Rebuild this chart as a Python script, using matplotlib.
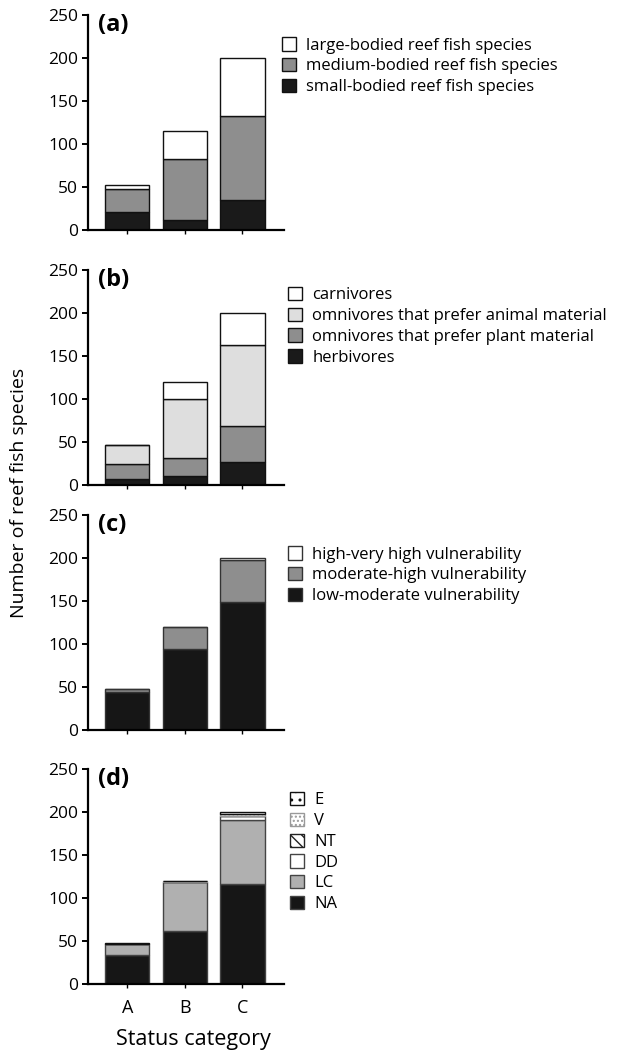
import matplotlib
matplotlib.use("Agg")
import matplotlib.pyplot as plt
import numpy as np

plt.rcParams.update({"font.family": ["Open Sans", "DejaVu Sans"], "font.size": 12,
                     "hatch.linewidth": 1.0})

categories = ["A", "B", "C"]

# (a) body size
size_labels = ["small-bodied reef fish species", "medium-bodied reef fish species",
               "large-bodied reef fish species"]
size_small = [21, 12, 35]
size_medium = [27, 70, 98]
size_large = [4, 33, 67]

# (b) trophic group
troph_labels = ["herbivores", "omnivores that prefer plant material",
                "omnivores that prefer animal material", "carnivores"]
troph_herb = [7, 11, 27]
troph_plant = [18, 21, 42]
troph_animal = [22, 68, 94]
troph_carn = [0, 20, 37]

# (c) vulnerability
vuln_labels = ["low-moderate vulnerability", "moderate-high vulnerability",
               "high-very high vulnerability"]
vuln_low = [44, 94, 149]
vuln_mod = [3, 25, 48]
vuln_high = [0, 1, 3]

# (d) IUCN status
iucn_labels = ["NA", "LC", "DD", "NT", "V", "E"]
iucn_na = [34, 61, 116]
iucn_lc = [12, 57, 75]
iucn_dd = [0, 0, 4]
iucn_nt = [0, 0, 0]
iucn_v = [0, 1, 2]
iucn_e = [1, 1, 3]

panels = [
    ("(a)", [size_small, size_medium, size_large], size_labels,
     [dict(fc="#1a1a1a", ec="#111111"), dict(fc="#8e8e8e", ec="#111111"),
      dict(fc="white", ec="#111111")], 0.781),
    ("(b)", [troph_herb, troph_plant, troph_animal, troph_carn], troph_labels,
     [dict(fc="#1a1a1a", ec="#111111"), dict(fc="#8e8e8e", ec="#111111"),
      dict(fc="#dedede", ec="#111111"), dict(fc="white", ec="#111111")], 0.538),
    ("(c)", [vuln_low, vuln_mod, vuln_high], vuln_labels,
     [dict(fc="#161616", ec="#333333"), dict(fc="#8e8e8e", ec="#333333"),
      dict(fc="white", ec="#333333")], 0.305),
    ("(d)", [iucn_na, iucn_lc, iucn_dd, iucn_nt, iucn_v, iucn_e], iucn_labels,
     [dict(fc="#161616", ec="#444444"), dict(fc="#b0b0b0", ec="#444444"),
      dict(fc="white", ec="#444444"), dict(fc="white", ec="#222222", hatch="\\\\\\"),
      dict(fc="white", ec="#999999", hatch="...."), dict(fc="white", ec="#111111", hatch="..")],
     0.063),
]

legend_tops = [0.9645, 0.7267, 0.4797, 0.2457]
legend_lefts = [282, 288, 288, 290]

fig = plt.figure(figsize=(6.21, 10.5), dpi=100)
x = np.arange(len(categories))

for i, (tag, series, labels, styles, bottom) in enumerate(panels):
    ax = fig.add_axes([88 / 621, bottom, 196 / 621, 0.2048])
    base = np.zeros(len(categories))
    handles = []
    for vals, lab, st in zip(series, labels, styles):
        b = ax.bar(x, vals, width=0.77, bottom=base, color=st["fc"], edgecolor=st["ec"],
                   hatch=st.get("hatch"), linewidth=1.0, label=lab)
        handles.append(b)
        base = base + np.array(vals)
    ax.set_ylim(0, 250)
    ax.set_xlim(-0.68, 2.72)
    ax.set_yticks([0, 50, 100, 150, 200, 250])
    ax.set_xticks(x)
    if i == 3:
        ax.set_xticklabels(categories, fontsize=13)
        ax.set_xlabel("Status category", fontsize=15.5)
        ax.xaxis.set_label_coords(0.536, -0.21)
    else:
        ax.set_xticklabels([])
    for s in ("top", "right"):
        ax.spines[s].set_visible(False)
    for s in ("left", "bottom"):
        ax.spines[s].set_linewidth(1.6)
    ax.tick_params(axis="y", length=4, width=1.4, labelsize=12.5, pad=3)
    ax.tick_params(axis="x", length=3, width=1.0, pad=8)
    ax.text(0.05, 1.01, tag, transform=ax.transAxes, fontsize=17, fontweight="bold",
            va="top", ha="left")
    fig.legend(handles[::-1], labels[::-1], loc="upper left",
               bbox_to_anchor=(legend_lefts[i] / 621, legend_tops[i]), frameon=False,
               handlelength=0.85, handleheight=0.85, handletextpad=0.6,
               labelspacing=0.26, borderaxespad=0, borderpad=0, fontsize=12)

fig.text(0.031, 0.531, "Number of reef fish species", rotation=90, va="center",
         ha="center", fontsize=14)

fig.savefig("out.png", dpi=100)
